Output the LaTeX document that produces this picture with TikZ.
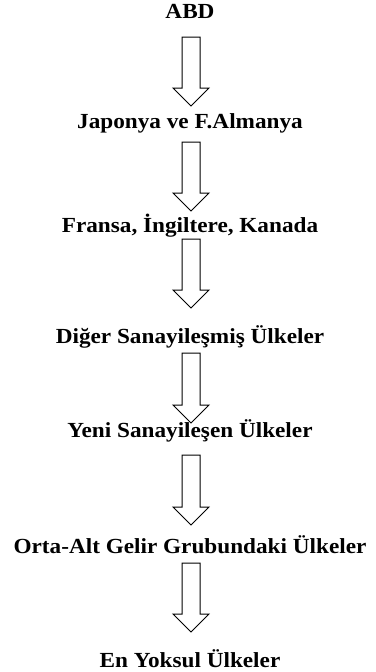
\documentclass[tikz,border=0pt]{standalone}
\usepackage{fontspec}
\setmainfont{Liberation Serif}[FakeStretch=1.08]
\usetikzlibrary{calc}

\tikzset{every picture/.style={line width=1pt}}
\tikzset{
  lbl/.style={anchor=base, inner sep=0pt, font=\fontsize{21.5}{25}\selectfont\bfseries},
  fatarrow/.style={draw, fill=white, line join=miter,
    to path={let \p1=(\tikztostart), \p2=(\tikztotarget) in
      (\x1-9pt,\y1) -- (\x1+9pt,\y1) -- (\x1+9pt,\y2-18pt) -- (\x1+18pt,\y2-18pt)
      -- (\x1,\y2) -- (\x1-18pt,\y2-18pt) -- (\x1-9pt,\y2-18pt) -- cycle}}
}

\begin{document}
\begin{tikzpicture}[x=1pt,y=1pt,yscale=-1,xscale=1]
\useasboundingbox (0,0) rectangle (375,672);

% Text Node
\node[lbl] (abd) at (190,18) {ABD};
\node[lbl] (jap) at (190,128) {Japonya ve F.Almanya};
\node[lbl] (fra) at (190,232) {Fransa, İngiltere, Kanada};
\node[lbl] (dig) at (190,343) {Diğer Sanayileşmiş Ülkeler};
\node[lbl] (yeni) at (190,437) {Yeni Sanayileşen Ülkeler};
\node[lbl] (orta) at (190,553) {Orta-Alt Gelir Grubundaki Ülkeler};
\node[lbl] (yoksul) at (190,667) {En Yoksul Ülkeler};

%Block Arrows
\draw[fatarrow] ($(abd.base)+(1,19)$) to ($(jap.base)+(1,-22)$);
\draw[fatarrow] ($(jap.base)+(1,14)$) to ($(fra.base)+(1,-21)$);
\draw[fatarrow] ($(fra.base)+(1,7)$) to ($(dig.base)+(1,-35)$);
\draw[fatarrow] ($(dig.base)+(1,10)$) to ($(yeni.base)+(1,-14)$);
\draw[fatarrow] ($(yeni.base)+(1,18)$) to ($(orta.base)+(1,-28)$);
\draw[fatarrow] ($(orta.base)+(1,10)$) to ($(yoksul.base)+(1,-35)$);

\end{tikzpicture}
\end{document}
